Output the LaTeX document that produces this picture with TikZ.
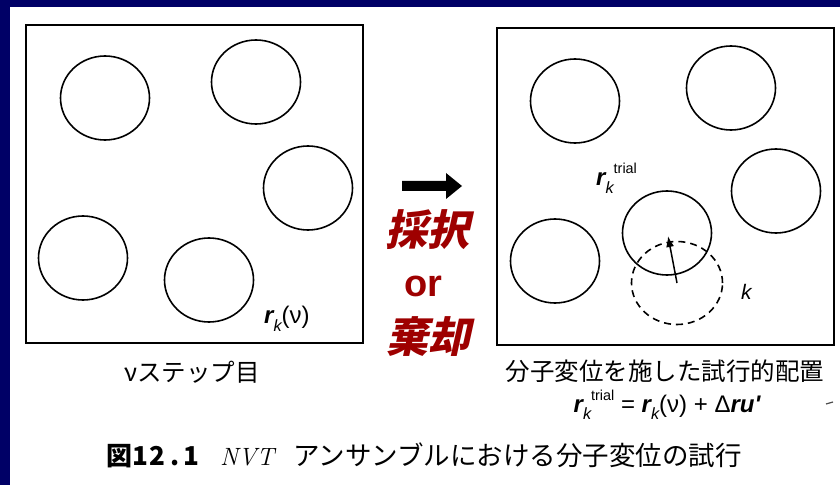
\documentclass[tikz,border=0pt]{standalone}
\usepackage{fontspec}
\usetikzlibrary{shapes.geometric,arrows.meta}
\newfontfamily\jp{Noto Sans CJK JP}
\newfontfamily\jpsl[FakeSlant=0.22]{Noto Sans CJK JP}
\newfontfamily\hel{Liberation Sans}
\definecolor{bgnavy}{RGB}{0,0,102}
\definecolor{redtext}{RGB}{158,0,0}
\newcommand\fs[1]{\fontsize{#1bp}{#1bp}\selectfont}
\newcommand\bvec[1]{{\bfseries\itshape #1}}
\newcommand\subk{\raisebox{-0.3em}{\fontsize{0.68em}{0.68em}\selectfont\itshape k}}
\newcommand\suptrial{\raisebox{0.5em}{\fontsize{0.6em}{0.6em}\selectfont trial}}
\newcommand\dg[1]{\makebox[17bp]{#1}}
\tikzset{
  mol/.style={draw, ellipse, line width=1.6bp, minimum width=89bp, minimum height=84bp, inner sep=0pt},
  oldmol/.style={mol, dash pattern=on 7bp off 5bp},
  frame/.style={draw, line width=1.8bp, inner sep=0pt},
  jcap/.style={font=\jp\fs{24.5}, inner sep=0pt},
  redword/.style={text=redtext, inner sep=0pt},
  lbl/.style={font=\hel\fs{24}, inner sep=0pt},
  bcap/.style={inner sep=0pt, anchor=base west},
}
\begin{document}
\begin{tikzpicture}[x=1bp,y=-1bp]
\useasboundingbox (0,0) rectangle (840,485);
\fill[white] (0,0) rectangle (840,485);
\fill[bgnavy] (0,0) rectangle (840,7);
\fill[bgnavy] (0,0) rectangle (10,485);

% left panel
\node[frame, minimum width=337bp, minimum height=318bp] (boxL) at (194.5,184) {};
\node[mol] (l1) at (105,98) {};
\node[mol] (l2) at (256,82) {};
\node[mol] (l3) at (308,188) {};
\node[mol] (l4) at (83,258) {};
\node[mol] (l5) at (209,280) {};
\node[lbl, anchor=base west] (rkv) at (264,324) {\bvec{r}\subk(ν)};
\node[jcap] (capL) at (192,372) {νステップ目};

% right panel
\node[frame, minimum width=337bp, minimum height=317bp] (boxR) at (665.5,186.5) {};
\node[mol] (r1) at (575,101) {};
\node[mol] (r2) at (731,88) {};
\node[mol] (r3) at (776,191) {};
\node[mol] (r4) at (555,261) {};
\node[mol] (trial) at (667,233) {};
\node[oldmol, minimum width=91bp, minimum height=83bp] (old) at (677,283) {};
\coordinate (tip) at (668,236);
\draw[line width=1.5bp, -{Latex[length=11bp,width=8bp]}] (old.center) -- (tip);
\node[lbl, anchor=base west] (rkt) at (596,186) {\bvec{r}\subk\suptrial};
\node[font=\hel\itshape\fs{21}, inner sep=0pt, anchor=base west] (klbl) at (741,300) {k};
\node[jcap] (capR) at (665,371) {分子変位を施した試行的配置};
\node[font=\hel\fs{24}, inner sep=0pt, anchor=base] (eq) at (667,412) {\bvec{r}\subk\suptrial{} = \bvec{r}\subk(ν) + Δ\bvec{r}\bvec{u}\bvec{'}};

% middle: arrow and decision
\fill (402,181) -- (446,181) -- (446,173) -- (462,186) -- (446,199) -- (446,191) -- (402,191) -- cycle;
\node[redword, font=\jpsl\bfseries\fs{42}] (adopt) at (427,230) {採択};
\node[redword, font=\hel\bfseries\fs{38}] (orw) at (423,286) {or};
\node[redword, font=\jpsl\bfseries\fs{42}] (reject) at (428,337) {棄却};

% figure caption
\node[bcap, font=\jp\bfseries\fs{26}] (fig) at (106,465) {図\dg{1}\dg{2}\dg{.}\dg{1}};
\node[bcap, font=\itshape\fs{25}] (nvt) at (220,465) {NVT};
\node[bcap, font=\jp\fs{26.5}] (capB) at (293,465) {アンサンブルにおける分子変位の試行};

% scan mark
\draw[line width=1.2bp, black!70] (826,404) -- (833,402);
\end{tikzpicture}
\end{document}
